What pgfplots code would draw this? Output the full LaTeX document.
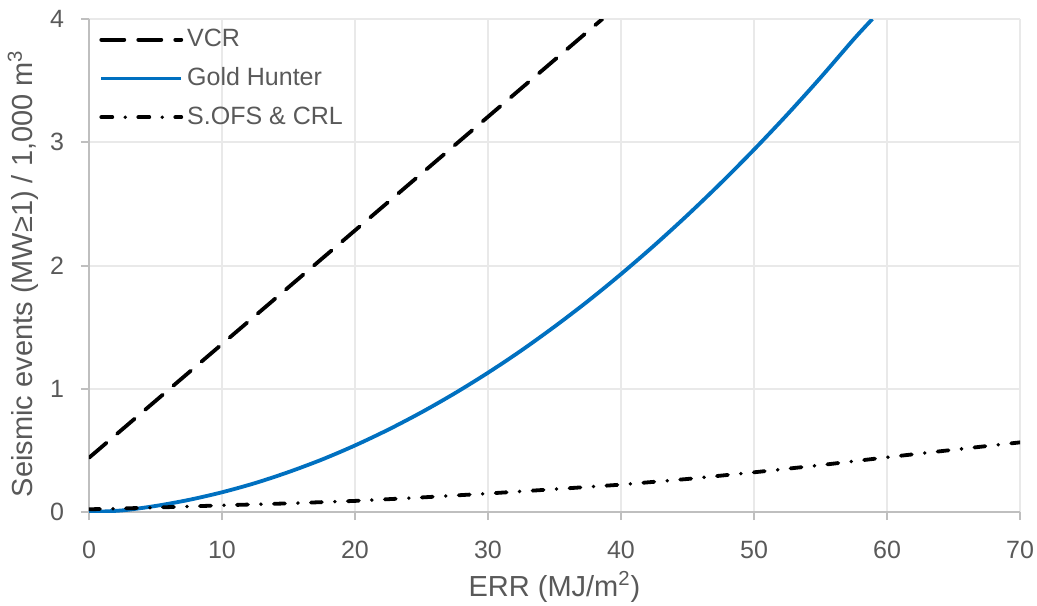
\documentclass[border=0pt]{standalone}
\usepackage{fontspec}
\setmainfont{Liberation Sans}
\usepackage{pgfplots}
\pgfplotsset{compat=1.18}
\definecolor{txtgray}{HTML}{595959}
\definecolor{axgray}{HTML}{BFBFBF}
\definecolor{gridgray}{HTML}{E9E9E9}
\definecolor{ghblue}{HTML}{0070C0}
\begin{document}
\begin{tikzpicture}
\useasboundingbox (-44.5pt,-46.5pt) rectangle (474pt,256pt);
\begin{axis}[
    at={(0pt,0pt)}, anchor=origin,
    scale only axis,
    width=465.5pt, height=246.5pt,
    xmin=0, xmax=70, ymin=0, ymax=4,
    xtick={0,10,...,70}, ytick={0,1,2,3,4},
    axis x line*=bottom, axis y line*=left,
    axis line style={axgray, line width=1pt, -},
    tick align=outside, major tick length=4pt,
    tick style={axgray, line width=1pt},
    grid=major, major grid style={gridgray, line width=1pt},
    /pgf/number format/assume math mode=true,
    ticklabel style={font=\fontsize{12.5}{14}\selectfont, text=txtgray},
    xticklabel style={yshift=-7pt},
    yticklabel style={xshift=-5pt},
    xlabel={ERR (MJ/m\textsuperscript{2})},
    ylabel={Seismic events (MW≥1) / 1,000 m\textsuperscript{3}},
    every axis x label/.style={at={(axis description cs:0.5,0)}, anchor=center,
        yshift=-37.5pt, font=\fontsize{14.5}{16}\selectfont, text=txtgray},
    every axis y label/.style={at={(axis description cs:-0.0709,0.484)}, anchor=center,
        rotate=90, font=\fontsize{14.5}{16}\selectfont, text=txtgray},
    legend style={at={(axis description cs:0.0,1)}, anchor=north west,
        xshift=2pt, yshift=-1pt,
        draw=none, fill=none, font=\fontsize{12.5}{14}\selectfont, text=txtgray,
        row sep=5pt, legend cell align=left},
    legend image code/.code={\draw[#1] (0pt,0pt) -- (40pt,0pt);},
    clip=true,
]
\addplot[black, line width=1.9pt, line cap=round, dash pattern=on 11.5pt off 7pt] coordinates {
    (0,0.44) (38.6,4.0)
};
\addlegendentry{VCR}
\addplot[ghblue, line width=1.9pt, smooth] coordinates {
    (0,0) (2.5,0.013) (5,0.049) (7.5,0.098) (10,0.16) (12.5,0.235) (15,0.324)
    (17.5,0.425) (20,0.54) (22.5,0.668) (25,0.809) (27.5,0.963) (30,1.13)
    (32.5,1.31) (35,1.504) (37.5,1.71) (40,1.93) (42.5,2.163) (45,2.409)
    (47.5,2.668) (50,2.94) (52.5,3.225) (55,3.524) (57.5,3.836) (58.9,4.0)
};
\addlegendentry{Gold Hunter}
\addplot[black, line width=1.9pt, line cap=round, dash pattern=on 5.5pt off 6.5pt on 0pt off 6.5pt] coordinates {
    (0,0.022) (5,0.036) (10,0.054) (15,0.07) (20,0.09) (25,0.118) (30,0.15)
    (35,0.185) (40,0.222) (45,0.268) (50,0.322) (55,0.38) (60,0.444)
    (65,0.505) (70,0.565)
};
\addlegendentry{S.OFS \& CRL}
\end{axis}
\end{tikzpicture}
\end{document}
